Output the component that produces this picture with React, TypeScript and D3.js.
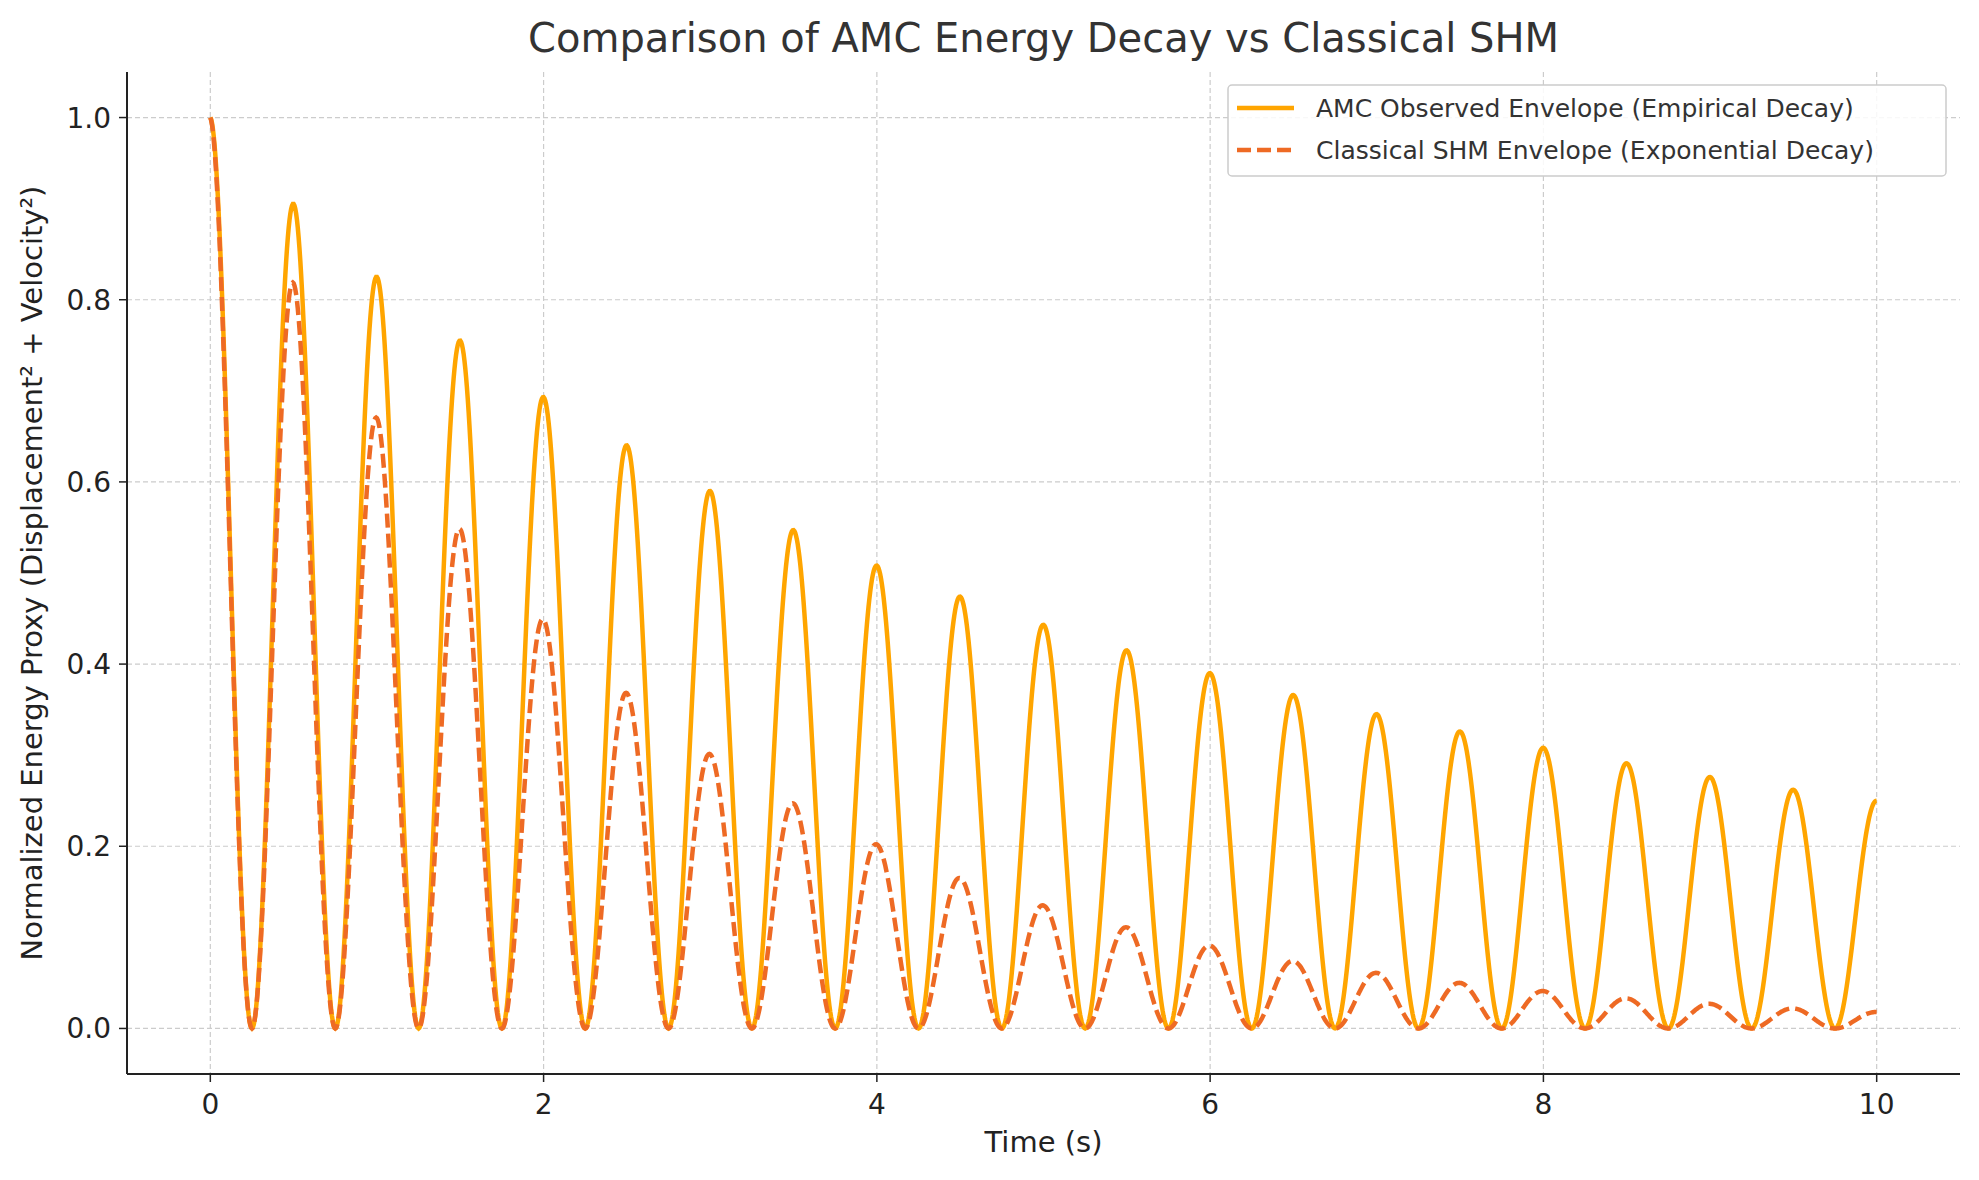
import * as d3 from "d3";

// peak values read at t = 0, 0.5, 1.0, ... 10.0
const peakTimes = d3.range(0, 21).map((i) => i * 0.5);
const amcPeaks = [1.0, 0.905, 0.825, 0.755, 0.693, 0.64, 0.59, 0.547, 0.508, 0.474, 0.443, 0.415, 0.39, 0.366, 0.345, 0.326, 0.308, 0.291, 0.276, 0.262, 0.25];
const shmPeaks = [1.0, 0.818, 0.67, 0.548, 0.449, 0.368, 0.301, 0.247, 0.202, 0.165, 0.135, 0.111, 0.091, 0.074, 0.061, 0.05, 0.041, 0.033, 0.027, 0.022, 0.018];
const xTicks = [0, 2, 4, 6, 8, 10];
const yTicks = [0, 0.2, 0.4, 0.6, 0.8, 1.0];

const W = 1979, H = 1180;
const m = { l: 127, r: 19, t: 72, b: 106 };
const x = d3.scaleLinear().domain([-0.5, 10.5]).range([m.l, W - m.r]);
const y = d3.scaleLinear().domain([-0.05, 1.05]).range([H - m.b, m.t]);

// oscillation shape between read peaks (energy ~ cos² with period 0.5 s)
function trace(peaks: number[]) {
  const env = d3.scaleLog().domain(peakTimes).range(peaks).clamp(true);
  const envAt = (t: number) => {
    const i = Math.min(19, Math.floor(t / 0.5));
    const f = (t - peakTimes[i]) / 0.5;
    return Math.exp(Math.log(peaks[i]) * (1 - f) + Math.log(peaks[i + 1]) * f);
  };
  void env;
  return d3.range(0, 2001).map((k) => {
    const t = k * 0.005;
    const c = Math.cos(2 * Math.PI * t);
    return [t, envAt(t) * c * c] as [number, number];
  });
}

const line = d3.line<[number, number]>().x((d) => x(d[0])).y((d) => y(d[1]));
const font = "DejaVu Sans, sans-serif";

export default function App() {
  return (
    <svg width={W} height={H} style={{ display: "block", margin: -8 }} fontFamily={font}>
      <rect width={W} height={H} fill="#fff" />
      {xTicks.map((t) => (
        <line key={"gx" + t} x1={x(t)} x2={x(t)} y1={m.t} y2={H - m.b} stroke="#ccc" strokeWidth={1.2} strokeDasharray="5,3" />
      ))}
      {yTicks.map((t) => (
        <line key={"gy" + t} x1={m.l} x2={W - m.r} y1={y(t)} y2={y(t)} stroke="#ccc" strokeWidth={1.2} strokeDasharray="5,3" />
      ))}
      <path d={line(trace(amcPeaks))!} fill="none" stroke="#FFA500" strokeWidth={4.5} />
      <path d={line(trace(shmPeaks))!} fill="none" stroke="#EE6A24" strokeWidth={4.5} strokeDasharray="14,6" />
      <line x1={m.l} x2={m.l} y1={m.t} y2={H - m.b} stroke="#222" strokeWidth={2} />
      <line x1={m.l} x2={W - m.r} y1={H - m.b} y2={H - m.b} stroke="#222" strokeWidth={2} />
      {xTicks.map((t) => (
        <g key={"tx" + t}>
          <line x1={x(t)} x2={x(t)} y1={H - m.b} y2={H - m.b + 8} stroke="#222" strokeWidth={1.5} />
          <text x={x(t)} y={H - m.b + 40} textAnchor="middle" fontSize={28} fill="#222">{t}</text>
        </g>
      ))}
      {yTicks.map((t) => (
        <g key={"ty" + t}>
          <line x1={m.l - 8} x2={m.l} y1={y(t)} y2={y(t)} stroke="#222" strokeWidth={1.5} />
          <text x={m.l - 16} y={y(t) + 10} textAnchor="end" fontSize={28} fill="#222">{t.toFixed(1)}</text>
        </g>
      ))}
      <text x={(m.l + W - m.r) / 2} y={1152} textAnchor="middle" fontSize={29} fill="#222">Time (s)</text>
      <text transform={`translate(42,${(m.t + H - m.b) / 2}) rotate(-90)`} textAnchor="middle" fontSize={29} fill="#222">
        Normalized Energy Proxy (Displacement² + Velocity²)
      </text>
      <text x={(m.l + W - m.r) / 2} y={52} textAnchor="middle" fontSize={40} fill="#333">
        Comparison of AMC Energy Decay vs Classical SHM
      </text>
      <g>
        <rect x={1228} y={85} width={718} height={91} rx={4} fill="#fff" fillOpacity={0.85} stroke="#ccc" strokeWidth={1.5} />
        <line x1={1237} x2={1294} y1={108} y2={108} stroke="#FFA500" strokeWidth={4.5} />
        <text x={1316} y={117} fontSize={25} fill="#333">AMC Observed Envelope (Empirical Decay)</text>
        <line x1={1237} x2={1294} y1={150} y2={150} stroke="#EE6A24" strokeWidth={4.5} strokeDasharray="14,6" />
        <text x={1316} y={159} fontSize={25} fill="#333">Classical SHM Envelope (Exponential Decay)</text>
      </g>
    </svg>
  );
}
